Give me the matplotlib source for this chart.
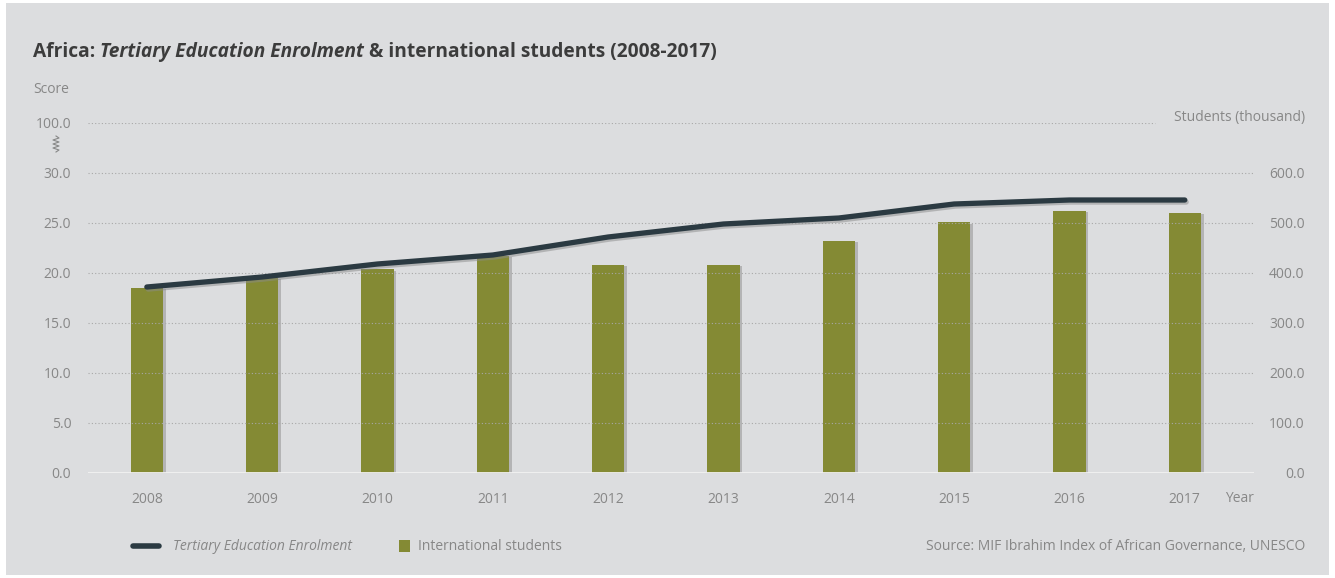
import matplotlib.pyplot as plt
import matplotlib.patheffects as pe
from matplotlib.patches import Rectangle
from matplotlib.lines import Line2D
import numpy as np

plt.rcParams['font.family'] = ['Open Sans', 'DejaVu Sans']

years = ["2008", "2009", "2010", "2011", "2012", "2013", "2014", "2015", "2016", "2017"]
enrolment = [18.6, 19.6, 20.9, 21.8, 23.6, 24.9, 25.5, 26.9, 27.3, 27.3]
students = [371, 390, 407, 434, 416, 416, 464, 501, 524, 520]
score_ticks = [0, 5, 10, 15, 20, 25, 30]
student_ticks = [0, 100, 200, 300, 400, 500, 600]

bg = "#dcdddf"
grey = "#878787"
olive = "#848a34"
dark = "#2b3a42"

W, H = 1335, 578
fig = plt.figure(figsize=(W / 100, H / 100), dpi=100)
fig.patch.set_facecolor("white")
fig.patches.append(Rectangle((6 / W, 3 / H), 1323 / W, 572 / H, transform=fig.transFigure,
                             facecolor=bg, edgecolor="none", zorder=-10))

ax = fig.add_axes([88 / W, 1 - 473 / H, (1254 - 88) / W, 350 / H])
ax.set_facecolor("none")
ax2 = ax.twinx()
ax2.set_facecolor("none")

x = np.arange(len(years))

# bars on the right (students) axis
ax2.bar(x, students, width=0.28, color=olive, zorder=2,
        path_effects=[pe.SimplePatchShadow(offset=(2, -1), shadow_rgbFace="#9a9a9a", alpha=0.6), pe.Normal()])
ax2.set_ylim(0, 700)
ax2.set_yticks(student_ticks)
ax2.set_yticklabels([f"{v:.1f}" for v in student_ticks])

# score line on the left axis, drawn above the bars
ax.set_zorder(ax2.get_zorder() + 1)
ax.plot(x, enrolment, color=dark, lw=3.8, solid_capstyle="round", zorder=3,
        path_effects=[pe.SimpleLineShadow(offset=(1, -1.5), shadow_color="#8a8a8a", alpha=0.5), pe.Normal()])
ax.set_ylim(0, 35)
ax.set_xlim(-0.51, 9.6)
ax.set_yticks(score_ticks + [35])
ax.set_yticklabels([f"{v:.1f}" for v in score_ticks] + ["100.0"])
ax.set_xticks(x)
ax.set_xticklabels(years)

# grid lines
for v in score_ticks[1:]:
    ax.axhline(v, color="#a8a8a8", lw=0.8, ls=(0, (1, 2)), zorder=0)
ax.axhline(35, xmax=(1155 - 88) / (1254 - 88), color="#a8a8a8", lw=0.8, ls=(0, (1, 2)), zorder=0)
ax.axhline(0, color="#f2f2f2", lw=2, zorder=1)

for a in (ax, ax2):
    for s in a.spines.values():
        s.set_visible(False)
    a.tick_params(length=0, colors=grey, labelsize=10)

ax.tick_params(axis="y", pad=12)
ax.tick_params(axis="x", pad=14)
ax2.tick_params(axis="y", pad=36.5)
for t in ax2.get_yticklabels():
    t.set_horizontalalignment("right")

# axis break symbol
zz_y = np.linspace(136, 152, 9)
zz_x = 56 + np.array([0, 3, -3, 3, -3, 3, -3, 3, 0])
fig.add_artist(Line2D(zz_x / W, 1 - zz_y / H, transform=fig.transFigure, color=grey, lw=0.8))

# title
t1 = fig.text(33 / W, 1 - 52 / H, "Africa: ", fontsize=13.8, fontweight="bold", color="#3c3c3c", va="center")
t2 = ax.annotate("Tertiary Education Enrolment", xy=(1, 0), xycoords=t1, va="bottom",
                 fontsize=13.8, fontweight="bold", style="italic", color="#3c3c3c")
ax.annotate(" & international students (2008-2017)", xy=(1, 0), xycoords=t2, va="bottom",
            fontsize=13.8, fontweight="bold", color="#3c3c3c")

fig.text(33 / W, 1 - 90 / H, "Score", fontsize=10, color=grey, va="center")
fig.text(1305 / W, 1 - 117 / H, "Students (thousand)", fontsize=10, color=grey, va="center", ha="right")
fig.text(1225 / W, 1 - 499 / H, "Year", fontsize=10, color=grey, va="center")
fig.text(1305 / W, 1 - 547 / H, "Source: MIF Ibrahim Index of African Governance, UNESCO",
         fontsize=10, color=grey, va="center", ha="right")

# legend, one entry per block so each handle gets its own width
leg1 = fig.legend([Line2D([], [], color=dark, lw=4, solid_capstyle="round")],
                  ["Tertiary Education Enrolment"],
                  loc="center left", bbox_to_anchor=(133 / W, 1 - 547 / H), frameon=False,
                  fontsize=10, labelcolor=grey, handlelength=1.9, handletextpad=1.0,
                  borderpad=0, borderaxespad=0)
leg1.get_texts()[0].set_style("italic")
fig.legend([Rectangle((0, 0), 1, 1, facecolor=olive)], ["International students"],
           loc="center left", bbox_to_anchor=(399 / W, 1 - 547 / H), frameon=False,
           fontsize=10, labelcolor=grey, handlelength=0.8, handleheight=1.0, handletextpad=0.6,
           borderpad=0, borderaxespad=0)

fig.savefig("out.png", dpi=100, facecolor=fig.get_facecolor())
